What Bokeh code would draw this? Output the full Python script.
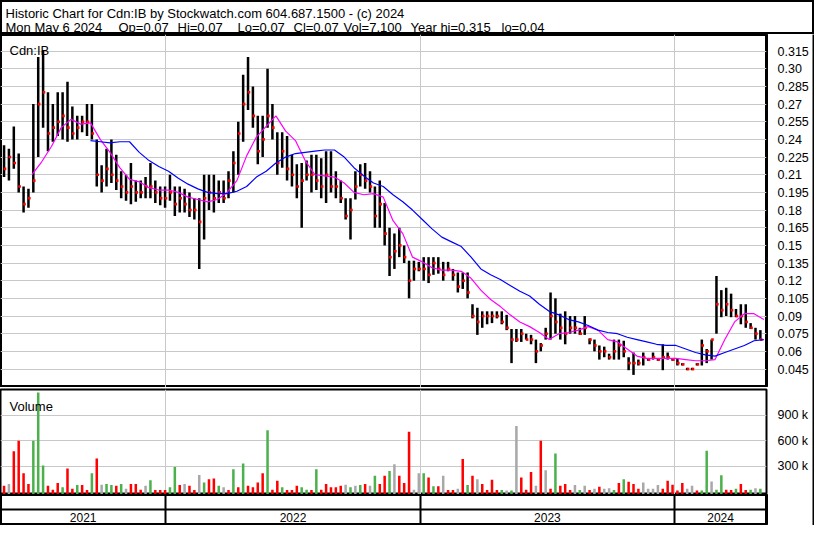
import numpy as np
import pandas as pd
from bokeh.plotting import figure
from bokeh.layouts import column, row
from bokeh.models import ColumnDataSource, Range1d, FixedTicker, Label, Grid, CustomJSTickFormatter
from bokeh.embed import file_html
from bokeh.resources import INLINE

FONT = "Liberation Sans"

# ---------------- data ----------------
week_start = "2021-05-14"   # weekly bars (Fridays)

price_high = [
    .235, .232, .251, .228, .200, .198, .270, .310, .315, .280,
    .270, .280, .280, .289, .268, .260, .260, .270, .270, .240,
    .218, .232, .240, .227, .213, .210, .220, .205, .205, .208,
    .220, .205, .200, .200, .210, .200, .200, .198, .195, .190,
    .190, .210, .210, .210, .205, .205, .213, .230, .255, .295,
    .310, .285, .260, .260, .300, .270, .246, .246, .243, .227,
    .219, .220, .222, .227, .227, .224, .230, .230, .213, .205,
    .190, .190, .213, .219, .220, .213, .200, .205, .186, .165,
    .160, .165, .150, .137, .137, .136, .140, .140, .140, .140,
    .136, .136, .130, .127, .127, .127, .100, .097, .094, .094,
    .094, .094, .094, .091, .079, .079, .079, .075, .074, .070,
    .067, .080, .110, .105, .092, .094, .090, .090, .080, .090,
    .071, .070, .065, .064, .058, .070, .070, .069, .055, .059,
    .053, .059, .054, .059, .054, .066, .059, .054, .054, .050,
    .046, .046, .050, .070, .062, .070, .124, .112, .114, .109,
    .096, .100, .100, .084, .080, .078]

price_low = [
    .208, .205, .215, .195, .178, .182, .195, .225, .250, .230,
    .238, .243, .240, .238, .240, .240, .246, .243, .240, .200,
    .195, .200, .203, .197, .190, .188, .185, .187, .190, .190,
    .190, .186, .184, .182, .188, .175, .178, .178, .174, .172,
    .130, .155, .180, .178, .186, .186, .190, .195, .210, .238,
    .265, .250, .219, .225, .250, .240, .210, .216, .205, .200,
    .190, .165, .205, .195, .197, .190, .186, .195, .190, .186,
    .172, .155, .189, .200, .198, .195, .165, .165, .150, .124,
    .130, .140, .135, .105, .120, .128, .120, .118, .125, .126,
    .120, .128, .120, .110, .113, .105, .088, .074, .080, .083,
    .084, .088, .083, .078, .050, .068, .068, .070, .066, .050,
    .060, .070, .070, .075, .070, .066, .075, .075, .074, .074,
    .066, .060, .053, .055, .053, .053, .053, .055, .044, .040,
    .048, .048, .052, .053, .052, .044, .053, .052, .048, .048,
    .044, .044, .048, .048, .050, .053, .075, .089, .090, .089,
    .089, .083, .080, .079, .070, .070]

price_close = [
    .215, .225, .220, .200, .185, .190, .205, .270, .280, .245,
    .250, .255, .260, .250, .245, .250, .255, .255, .245, .210,
    .205, .215, .210, .205, .200, .195, .200, .195, .195, .200,
    .200, .195, .190, .190, .195, .185, .190, .185, .180, .180,
    .170, .190, .195, .190, .195, .190, .205, .220, .245, .270,
    .280, .260, .230, .240, .260, .250, .220, .230, .215, .210,
    .200, .205, .210, .210, .205, .200, .210, .200, .200, .190,
    .175, .180, .200, .210, .205, .200, .175, .185, .160, .140,
    .145, .150, .140, .120, .130, .130, .130, .125, .135, .130,
    .125, .130, .125, .115, .120, .110, .090, .085, .090, .090,
    .090, .090, .085, .080, .070, .070, .075, .070, .070, .060,
    .065, .075, .090, .085, .080, .075, .080, .080, .075, .080,
    .070, .065, .060, .060, .055, .060, .065, .060, .050, .050,
    .050, .055, .053, .055, .053, .055, .055, .053, .050, .049,
    .045, .045, .049, .065, .060, .070, .100, .095, .100, .095,
    .090, .090, .085, .080, .075, .070]

volume_k = [
    68, 87, 474, 600, 215, 87, 600, 1170, 308, 68,
    20, 99, 48, 271, 30, 75, 75, 15, 215, 390,
    79, 87, 75, 68, 87, 30, 87, 87, 20, 68,
    133, 15, 15, 15, 48, 290, 75, 87, 68, 15,
    195, 106, 145, 153, 68, 48, 15, 261, 48, 331,
    68, 48, 106, 215, 724, 20, 126, 48, 15, 15,
    68, 48, 20, 15, 261, 20, 87, 48, 48, 68,
    79, 48, 68, 75, 87, 68, 184, 87, 184, 242,
    320, 184, 99, 705, 20, 215, 215, 164, 60, 60,
    184, 15, 15, 30, 385, 75, 184, 145, 87, 15,
    137, 15, 15, 10, 10, 775, 164, 20, 230, 68,
    600, 250, 30, 450, 68, 87, 15, 75, 15, 68,
    15, 30, 56, 30, 37, 15, 99, 145, 114, 87,
    30, 106, 30, 30, 75, 30, 126, 79, 10, 99,
    30, 68, 10, 10, 480, 118, 20, 192, 20, 15,
    30, 87, 15, 20, 37, 30]

# R = down day (red), G = up day (green), N = unchanged (grey)
volume_dir = list(
    "RNRRRRGGGR" "RRGRRGRRGR" "NGGRGNRRRN" "GRRRGGRNRR" "NGRRGNRGRG"
    "RRRRGRRGRR" "RGGRGRRRRR" "NGNGRNGRRG" "NRRRNNGRGR" "NRRNRGRNRR"
    "RRGNGNRRRN" "RNRGRRRNGN" "RNRNNGRGRR" "RNNNNRRRRR" "NNRGGNGGRR"
    "GRRGNG")

# moving averages (read every two weeks)
ma_fast_start = "2021-06-23"
ma_fast = [
    .210, .221, .234, .250, .257, .253, .254, .240, .229, .216,
    .206, .204, .199, .197, .197, .195, .191, .189, .187, .189,
    .195, .205, .226, .242, .251, .260, .247, .239, .222, .210,
    .209, .208, .203, .195, .193, .194, .191, .171, .160, .140,
    .136, .131, .129, .129, .128, .122, .112, .104, .098, .091,
    .085, .081, .076, .070, .075, .076, .078, .081, .078, .070,
    .068, .062, .056, .054, .054, .054, .054, .053, .052, .052,
    .053, .070, .085, .092, .092, .087]

ma_slow_start = "2021-09-15"
ma_slow = [
    .239, .238, .237, .238, .238, .229, .222, .217, .213, .207,
    .202, .198, .195, .194, .194, .196, .200, .208, .213, .220,
    .225, .228, .229, .230, .231, .231, .225, .216, .209, .203,
    .200, .193, .187, .180, .172, .164, .157, .153, .149, .140,
    .130, .125, .121, .116, .111, .107, .100, .094, .091, .087,
    .085, .082, .078, .076, .075, .072, .070, .068, .066, .065,
    .065, .062, .059, .057, .056, .059, .062, .065, .069, .070]

price_ticks = [0.045, 0.06, 0.075, 0.09, 0.105, 0.12, 0.135, 0.15, 0.165, 0.18,
               0.195, 0.21, 0.225, 0.24, 0.255, 0.27, 0.285, 0.3, 0.315]
price_tick_labels = ["0.045", "0.06", "0.075", "0.09", "0.105", "0.12", "0.135", "0.15",
                     "0.165", "0.18", "0.195", "0.21", "0.225", "0.24", "0.255", "0.27",
                     "0.285", "0.30", "0.315"]
volume_ticks = [300000, 600000, 900000]
volume_tick_labels = ["300 k", "600 k", "900 k"]

year_labels = ["2021", "2022", "2023", "2024"]
year_starts = ["2022-01-01", "2023-01-01", "2024-01-01"]
view_start = "2021-05-08 21:36"
view_end = "2024-05-11 19:00"

header_line1 = "Historic Chart for Cdn:IB by Stockwatch.com 604.687.1500 - (c) 2024"
header_fields = ["Mon May  6 2024", "Op=0.07", "Hi=0.07", "Lo=0.07", "Cl=0.07",
                 "Vol=7,100", "Year hi=0.315", "lo=0.04"]

# ---------------- helpers ----------------
EPOCH = pd.Timestamp("1970-01-01")
DAY = 86400000.0


def ms(d):
    return (pd.Timestamp(d) - EPOCH) / pd.Timedelta(milliseconds=1)


def ms_index(idx):
    return ((idx - EPOCH) / pd.Timedelta(milliseconds=1)).to_numpy()


dates = pd.date_range(week_start, periods=len(price_high), freq="7D")
x_ms = ms_index(dates)
fast_x = ms_index(pd.date_range(ma_fast_start, periods=len(ma_fast), freq="14D"))
slow_x = ms_index(pd.date_range(ma_slow_start, periods=len(ma_slow), freq="14D"))
year_ms = [ms(d) for d in year_starts]
x0, x1 = ms(view_start), ms(view_end)

GRID = "#c8c8c8"
RED = "#ff0000"
GREEN = "#4cb04c"
GREY = "#a8a8a8"
color_map = {"R": RED, "G": GREEN, "N": GREY}

W_FRAME = 766
W_RIGHT = 46
W_EDGE = 2
W_TOTAL = W_FRAME + W_RIGHT + W_EDGE
H_HDR, H_PRICE, H_VOL, H_YEAR, H_EDGE = 34, 353, 107, 31, 2


def tick_formatter(tvals, tlabels):
    return CustomJSTickFormatter(
        args=dict(tvals=tvals, tlabels=tlabels),
        code="""
        for (let i = 0; i < tvals.length; i++) {
            if (Math.abs(tvals[i] - tick) < 1e-9 * Math.max(1, Math.abs(tick))) return tlabels[i];
        }
        return '';
        """)


def style_right_axis(fig, tvals, tlabels):
    ax = fig.yaxis[0]
    ax.ticker = FixedTicker(ticks=tvals)
    ax.formatter = tick_formatter(tvals, tlabels)
    ax.major_tick_line_color = None
    ax.minor_tick_line_color = None
    ax.axis_line_color = None
    ax.major_label_text_font = FONT
    ax.major_label_text_font_size = "12.5px"
    ax.major_label_text_color = "black"
    ax.major_label_standoff = 5
    fig.ygrid.grid_line_color = GRID
    fig.ygrid.grid_line_width = 1
    fig.xgrid.grid_line_color = None
    fig.add_layout(Grid(dimension=0, ticker=FixedTicker(ticks=year_ms),
                        grid_line_color=GRID, grid_line_width=1))


def black_strip(w, h):
    f = figure(width=w, height=h, x_range=Range1d(0, 1), y_range=Range1d(0, 1),
               x_axis_location=None, y_axis_location=None, toolbar_location=None,
               output_backend="svg", min_border=0, outline_line_color=None)
    f.grid.visible = False
    f.quad(left=[-1], right=[2], bottom=[-1], top=[2], fill_color="black", line_color="black")
    return f


# ---------------- header ----------------
hdr = figure(width=W_TOTAL, height=H_HDR, x_range=Range1d(0, W_TOTAL), y_range=Range1d(0, H_HDR),
             x_axis_location=None, y_axis_location=None, toolbar_location=None,
             output_backend="svg", min_border=0, outline_line_color="black",
             outline_line_width=3)
hdr.grid.visible = False
hdr.add_layout(Label(x=5, y=H_HDR - 13, text=header_line1, text_font=FONT,
                     text_font_size="13px", text_color="black", text_baseline="alphabetic"))
for fx, txt in zip([5, 118, 177, 237, 293, 343, 410, 501], header_fields):
    hdr.add_layout(Label(x=fx, y=H_HDR - 27, text=txt, text_font=FONT, text_font_size="13px",
                         text_color="black", text_baseline="alphabetic"))

# ---------------- price panel ----------------
xr = Range1d(x0, x1)
p = figure(frame_width=W_FRAME, frame_height=H_PRICE, x_range=xr,
           y_range=Range1d(0.0293, 0.3291),
           x_axis_location=None, y_axis_location="right", toolbar_location=None,
           output_backend="svg", min_border_left=0, min_border_right=W_RIGHT,
           min_border_top=0, min_border_bottom=0,
           outline_line_color="black", outline_line_width=3)
style_right_axis(p, price_ticks, price_tick_labels)

src = ColumnDataSource(dict(x=x_ms, hi=price_high, lo=price_low, cl=price_close,
                            xc=x_ms + 1.3 * DAY))
p.segment(x0="x", y0="lo", x1="x", y1="hi", source=src, line_color="black", line_width=2.5)
p.scatter(x="xc", y="cl", source=src, marker="square", size=2.6, fill_color=RED,
          line_color=None)
p.line(fast_x, ma_fast, line_color="#ff00ff", line_width=1.2)
p.line(slow_x, ma_slow, line_color="#0000ff", line_width=1.2)
p.add_layout(Label(x=x0, y=0.3291, x_offset=9, y_offset=-16, text="Cdn:IB", text_font=FONT,
                   text_font_size="13px", text_color="black", text_baseline="alphabetic"))

# ---------------- volume panel ----------------
VOL_BOTTOM = -37000
v = figure(frame_width=W_FRAME, frame_height=H_VOL - 2, x_range=xr,
           y_range=Range1d(VOL_BOTTOM, 1207000),
           x_axis_location=None, y_axis_location="right", toolbar_location=None,
           output_backend="svg", min_border_left=0, min_border_right=W_RIGHT,
           min_border_top=2, min_border_bottom=0,
           outline_line_color="black", outline_line_width=2)
style_right_axis(v, volume_ticks, volume_tick_labels)
vsrc = ColumnDataSource(dict(x=x_ms, vol=[k * 1000 for k in volume_k],
                             col=[color_map[c] for c in volume_dir]))
v.vbar(x="x", top="vol", bottom=VOL_BOTTOM, width=3.6 * DAY, source=vsrc,
       fill_color="col", line_color=None)
v.add_layout(Label(x=x0, y=1207000, x_offset=9, y_offset=-17, text="Volume", text_font=FONT,
                   text_font_size="13px", text_color="black", text_baseline="alphabetic"))

# ---------------- year band ----------------
yr = figure(frame_width=W_FRAME, frame_height=H_YEAR, x_range=xr, y_range=Range1d(0, 2),
            x_axis_location=None, y_axis_location=None, toolbar_location=None,
            output_backend="svg", min_border_left=0, min_border_right=W_RIGHT,
            min_border_top=0, min_border_bottom=0,
            outline_line_color="black", outline_line_width=3)
yr.grid.visible = False
yr.hspan(y=[1.05], line_color="black", line_width=2)
yr.vspan(x=year_ms, line_color="black", line_width=2)
bounds = [x0] + year_ms + [x1]
centers = [(bounds[i] + bounds[i + 1]) / 2 for i in range(len(year_labels))]
yr.text(x=centers, y=[0.5] * len(centers), text=year_labels, text_font={"value": FONT},
        text_font_size={"value": "12px"}, text_align="center", text_baseline="middle",
        text_color="black")

# ---------------- outer right and bottom edges ----------------
edge_right = black_strip(W_EDGE, H_PRICE + H_VOL + H_YEAR)
edge_bottom = black_strip(W_TOTAL, H_EDGE)

layout = column(hdr, row(column(p, v, yr, spacing=0), edge_right, spacing=0), edge_bottom,
                spacing=0)

open("out.html", "w").write(file_html(layout, INLINE))
